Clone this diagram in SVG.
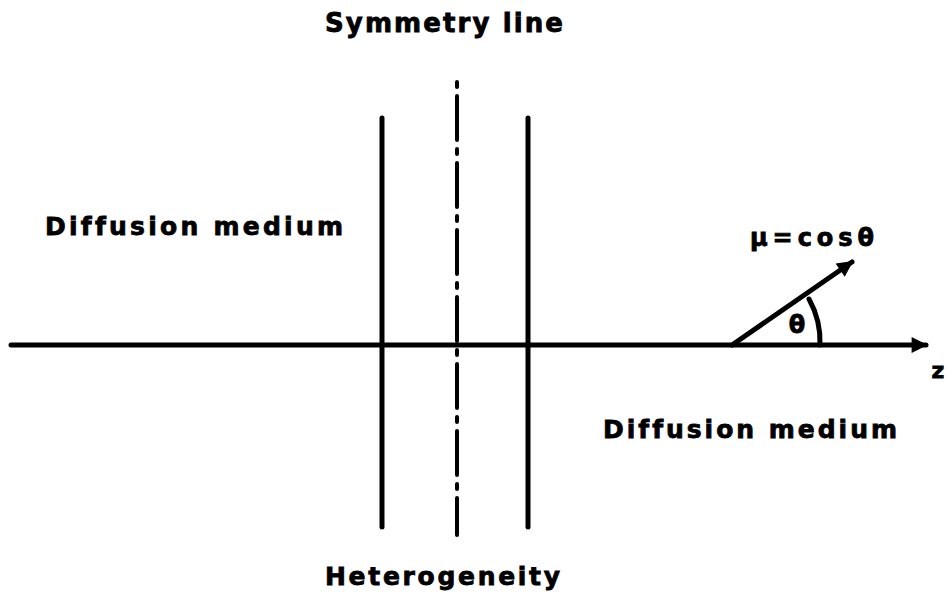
<svg xmlns="http://www.w3.org/2000/svg" width="947" height="596" viewBox="0 0 947 596">
  <style>
    .lbl { font-family: "DejaVu Sans", "Liberation Sans", sans-serif; font-weight: bold; fill: #000; font-variant-ligatures: none; stroke: #000; stroke-width: 0.8; }
    .ln { stroke: #000; stroke-width: 5; stroke-linecap: round; fill: none; }
  </style>
  <defs>
    <marker id="ah" viewBox="0 0 10 10" refX="9" refY="5" markerWidth="6.5" markerHeight="3.2" markerUnits="strokeWidth" orient="auto">
      <path d="M0,0 L10,5 L0,10 Z" fill="#000"/>
    </marker>
  </defs>
  <rect width="947" height="596" fill="#fff"/>
  <g id="connectors">
    <line class="ln" x1="11" y1="345" x2="926" y2="345" marker-end="url(#ah)"/>
    <line class="ln" x1="732" y1="345" x2="852" y2="262" marker-end="url(#ah)"/>
    <path class="ln" d="M809,299 A88,88 0 0 1 820,345" stroke-width="4"/>
  </g>
  <g id="heterogeneity-left">
    <line class="ln" x1="382" y1="118" x2="382" y2="527"/>
  </g>
  <g id="heterogeneity-right">
    <line class="ln" x1="528" y1="118" x2="528" y2="527"/>
  </g>
  <g id="symmetry-line">
    <line x1="457" y1="82" x2="457" y2="535" stroke="#000" stroke-width="4" stroke-dasharray="5,9,44,9" stroke-linecap="round"/>
    <text class="lbl" x="325" y="32" font-size="26" textLength="238" lengthAdjust="spacing">Symmetry line</text>
  </g>
  <g id="label-heterogeneity">
    <text class="lbl" x="325" y="585" font-size="25" textLength="235" lengthAdjust="spacing">Heterogeneity</text>
  </g>
  <g id="label-diffusion-left">
    <text class="lbl" x="45" y="235" font-size="25" textLength="298" lengthAdjust="spacing">Diffusion medium</text>
  </g>
  <g id="label-diffusion-right">
    <text class="lbl" x="603" y="438" font-size="25" textLength="294" lengthAdjust="spacing">Diffusion medium</text>
  </g>
  <g id="label-mu">
    <text class="lbl" x="750" y="246" font-size="24" textLength="124" lengthAdjust="spacing">μ=cosθ</text>
  </g>
  <g id="label-theta">
    <text class="lbl" x="797" y="333" font-size="24" text-anchor="middle">θ</text>
  </g>
  <g id="label-z">
    <text class="lbl" x="938" y="378" font-size="22" text-anchor="middle">z</text>
  </g>
</svg>
